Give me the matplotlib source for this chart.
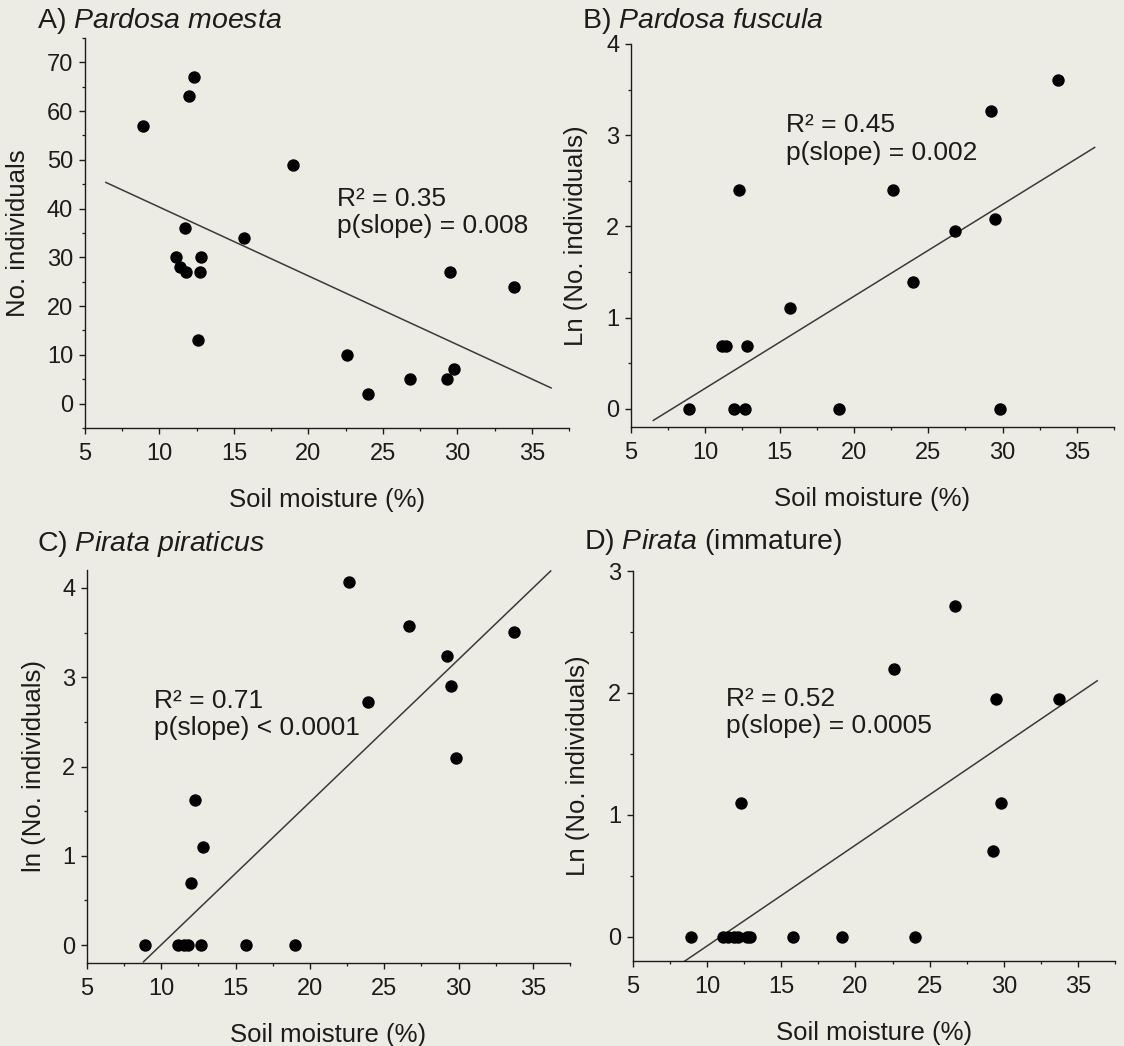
import numpy as np
import matplotlib
matplotlib.use('Agg')
from matplotlib import pyplot as plt
from matplotlib.ticker import MultipleLocator

plt.rcParams['font.family'] = ['Liberation Sans', 'DejaVu Sans']
plt.rcParams['mathtext.fontset'] = 'custom'
plt.rcParams['mathtext.rm'] = 'Liberation Sans'
plt.rcParams['mathtext.it'] = 'Liberation Sans:italic'

# A) Pardosa moesta - raw counts
moist_a = [8.9, 11.1, 11.4, 11.7, 11.8, 12.0, 12.3, 12.6, 12.7, 12.8,
           15.7, 19.0, 22.6, 24.0, 26.8, 29.3, 29.5, 29.8, 33.8]
count_a = [57, 30, 28, 36, 27, 63, 67, 13, 27, 30,
           34, 49, 10, 2, 5, 5, 27, 7, 24]

# B) Pardosa fuscula - ln counts
moist_b = [8.9, 11.1, 11.4, 11.9, 12.3, 12.7, 12.8, 15.7, 19.0,
           22.6, 24.0, 26.8, 29.2, 29.5, 29.8, 33.7]
ln_b = [0, 0.69, 0.69, 0, 2.40, 0, 0.69, 1.10, 0,
        2.40, 1.39, 1.95, 3.26, 2.08, 0, 3.61]

# C) Pirata piraticus - ln counts
moist_c = [8.9, 11.1, 11.5, 11.8, 12.0, 12.3, 12.7, 12.8, 15.7, 19.0,
           22.6, 23.9, 26.7, 29.2, 29.5, 29.8, 33.7]
ln_c = [0, 0, 0, 0, 0.70, 1.62, 0, 1.10, 0, 0,
        4.07, 2.72, 3.57, 3.24, 2.90, 2.10, 3.51]

# D) Pirata (immature) - ln counts
moist_d = [8.9, 11.1, 11.4, 11.8, 12.1, 12.3, 12.7, 12.9, 15.8, 19.1,
           22.6, 24.0, 26.7, 29.3, 29.5, 29.8, 33.7]
ln_d = [0, 0, 0, 0, 0, 1.10, 0, 0, 0, 0,
        2.20, 0, 2.71, 0.70, 1.95, 1.10, 1.95]

# fitted lines: slope, intercept, x-range
fit_a = (-1.41, 54.4, 6.4, 36.3)
fit_b = (0.1008, -0.783, 6.5, 36.2)
fit_c = (0.1597, -1.592, 8.8, 36.2)
fit_d = (0.0827, -0.903, 8.45, 36.3)

titles = [r'A) $\mathit{Pardosa\ moesta}$', r'B) $\mathit{Pardosa\ fuscula}$',
          r'C) $\mathit{Pirata\ piraticus}$', r'D) $\mathit{Pirata}$ (immature)']
ylabels = ['No. individuals', 'Ln (No. individuals)',
           'ln (No. individuals)', 'Ln (No. individuals)']
stats = ['R\u00b2 = 0.35\np(slope) = 0.008', 'R\u00b2 = 0.45\np(slope) = 0.002',
         'R\u00b2 = 0.71\np(slope) < 0.0001', 'R\u00b2 = 0.52\np(slope) = 0.0005']

bg = '#ecebe4'
ink = '#1c1c1c'

fig = plt.figure(figsize=(11.24, 10.46), dpi=100, facecolor=bg)
W, H = 1124., 1046.

# (left, top, right, bottom) in pixels, ylim, major/minor y step, stats pos, title pos, ylabel x
panels = [
    (moist_a, count_a, fit_a, (85, 38, 569, 428), (-5, 75), 10, 5, (21.9, 39.2), (37, 21), 30),
    (moist_b, ln_b, fit_b, (631, 44, 1114, 427), (-0.2, 4), 1, 0.5, (15.4, 2.96), (582, 21), 588),
    (moist_c, ln_c, fit_c, (87, 570, 570, 963), (-0.2, 4.2), 1, 0.5, (9.5, 2.58), (37, 544), 46),
    (moist_d, ln_d, fit_d, (633, 571, 1115, 961), (-0.2, 3), 1, 0.5, (11.3, 1.84), (584, 542), 590),
]

for i, (x, y, fit, box, ylim, maj, mnr, spos, tpos, ylx) in enumerate(panels):
    l, t, r, b = box
    ax = fig.add_axes([l / W, 1 - b / H, (r - l) / W, (b - t) / H])
    ax.set_facecolor(bg)
    ax.scatter(x, y, s=80, c='black', zorder=3, linewidths=0)
    xs = np.array([fit[2], fit[3]])
    ax.plot(xs, fit[0] * xs + fit[1], color='#3a3a3a', lw=1.1, zorder=2)
    ax.set_xlim(5, 37.5)
    ax.set_ylim(*ylim)
    ax.xaxis.set_major_locator(MultipleLocator(5))
    ax.xaxis.set_minor_locator(MultipleLocator(2.5))
    ax.yaxis.set_major_locator(MultipleLocator(maj))
    ax.yaxis.set_minor_locator(MultipleLocator(mnr))
    for s in ['top', 'right']:
        ax.spines[s].set_visible(False)
    for s in ['left', 'bottom']:
        ax.spines[s].set_color(ink)
        ax.spines[s].set_linewidth(1.0)
    ax.tick_params(which='major', direction='out', length=4.5, width=1.0,
                   colors=ink, labelsize=17, pad=4)
    ax.tick_params(axis='x', which='major', pad=6)
    ax.tick_params(which='minor', direction='out', length=2.5, width=0.9, colors=ink)
    ax.set_xlabel('Soil moisture (%)', fontsize=18.5, color=ink, labelpad=17)
    ax.set_ylabel(ylabels[i], fontsize=18.5, color=ink)
    ax.yaxis.set_label_coords((ylx - l) / (r - l), 0.5)
    ax.text(spos[0], spos[1], stats[i], fontsize=19, color=ink,
            va='center', ha='left', linespacing=1.18)
    fig.text(tpos[0] / W, 1 - tpos[1] / H, titles[i], fontsize=20.5,
             color=ink, va='center', ha='left')

fig.savefig('out.png', dpi=100, facecolor=bg)
